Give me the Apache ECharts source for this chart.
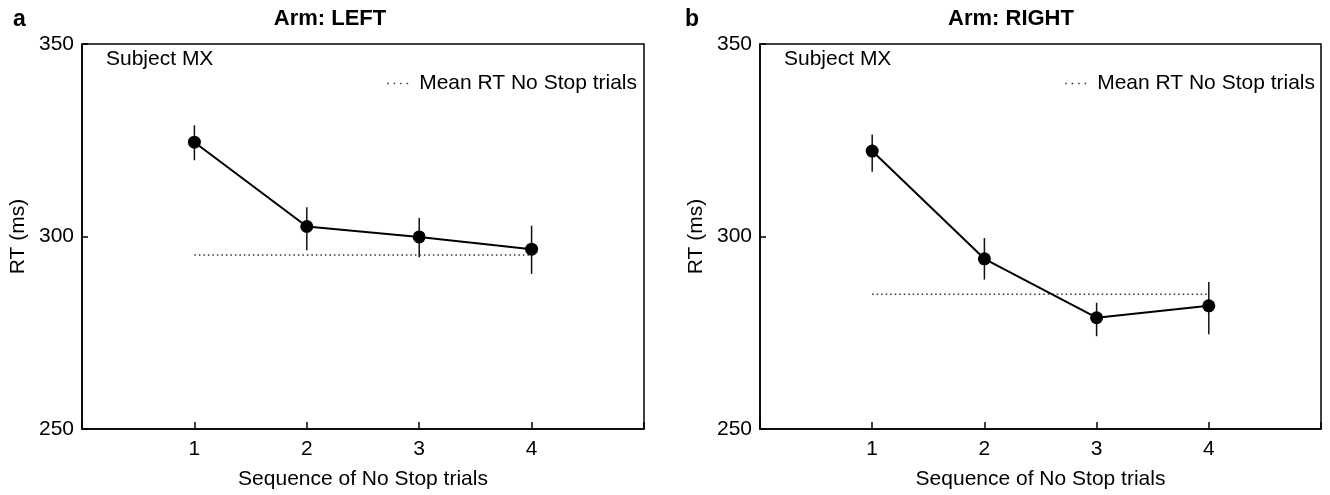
<!DOCTYPE html>
<html>
<head>
<meta charset="utf-8">
<script src="https://cdn.jsdelivr.net/npm/echarts@6/dist/echarts.min.js"></script>
<style>
html,body{margin:0;padding:0;background:#fff;}
#chart{width:1330px;height:495px;}
</style>
</head>
<body>
<div id="chart"></div>
<script>
// ---- data ----
const sequence = [1, 2, 3, 4];
const leftMean = [324.5, 302.6, 299.9, 296.7];
const leftLow  = [319.8, 296.4, 294.6, 290.3];
const leftHigh = [328.9, 307.6, 304.8, 302.8];
const leftNoStop = 295.2;

const rightMean = [322.2, 294.2, 278.9, 282.0];
const rightLow  = [316.8, 288.8, 274.1, 274.6];
const rightHigh = [326.5, 299.6, 282.8, 288.2];
const rightNoStop = 285.0;

const panelTitles = ['Arm: LEFT', 'Arm: RIGHT'];
const panelLetters = ['a', 'b'];
const subjectLabel = 'Subject MX';
const meanLabel = 'Mean RT No Stop trials';
const xName = 'Sequence of No Stop trials';
const yName = 'RT (ms)';
const yTicks = [250, 300, 350];

// ---- chart ----
const FONT = '"Liberation Sans", Arial, Helvetica, sans-serif';
const chart = echarts.init(document.getElementById('chart'));

const grids = [
  {left: 82, top: 44, width: 562, height: 387},
  {left: 760, top: 44, width: 561, height: 387}
];

function xAxis(i) {
  return {
    type: 'value', gridIndex: i, min: 0, max: 5, interval: 1,
    name: xName, nameLocation: 'middle', nameGap: 40,
    nameTextStyle: {color: '#000', fontSize: 21, fontFamily: FONT},
    axisLine: {lineStyle: {color: '#000', width: 1.5}},
    axisTick: {inside: true, length: 7, lineStyle: {color: '#000', width: 1.5}},
    axisLabel: {color: '#000', fontSize: 21, fontFamily: FONT, margin: 10,
      formatter: v => sequence.indexOf(v) >= 0 ? String(v) : ''},
    splitLine: {show: false}
  };
}
function yAxis(i) {
  return {
    type: 'value', gridIndex: i, min: yTicks[0], max: yTicks[yTicks.length - 1], interval: 50,
    name: yName, nameLocation: 'middle', nameGap: 53,
    nameTextStyle: {color: '#000', fontSize: 21, fontFamily: FONT},
    axisLine: {lineStyle: {color: '#000', width: 1.5}},
    axisTick: {inside: true, length: 6, lineStyle: {color: '#000', width: 1.5}},
    axisLabel: {color: '#000', fontSize: 21, fontFamily: FONT, margin: 8},
    splitLine: {show: false}
  };
}

function errSeries(i, low, high) {
  return {
    type: 'custom', xAxisIndex: i, yAxisIndex: i, z: 1,
    data: sequence.map((x, k) => [x, low[k], high[k]]),
    renderItem: function (params, api) {
      const p1 = api.coord([api.value(0), api.value(1)]);
      const p2 = api.coord([api.value(0), api.value(2)]);
      return {type: 'line', shape: {x1: p1[0], y1: p1[1], x2: p2[0], y2: p2[1]},
        style: {stroke: '#111', lineWidth: 1.5}};
    },
    silent: true
  };
}
function mainSeries(i, vals) {
  return {
    type: 'line', xAxisIndex: i, yAxisIndex: i, z: 3,
    data: sequence.map((x, k) => [x, vals[k]]),
    symbol: 'circle', symbolSize: 13,
    itemStyle: {color: '#000'},
    lineStyle: {color: '#000', width: 2},
    silent: true
  };
}
function meanSeries(i, m) {
  return {
    name: meanLabel, type: 'line', xAxisIndex: i, yAxisIndex: i, z: 2,
    data: [[sequence[0], m], [sequence[sequence.length - 1], m]],
    symbol: 'none',
    itemStyle: {color: '#333'},
    lineStyle: {color: '#333', width: 1.5, type: [1.5, 3]},
    silent: true
  };
}

function legend(right) {
  return {
    data: [meanLabel], right: right, top: 68, itemWidth: 26, itemHeight: 14, itemGap: 0,
    itemStyle: {opacity: 0},
    lineStyle: {color: '#333', width: 1.5, type: [1.5, 5], opacity: 1},
    textStyle: {fontSize: 21, color: '#000', fontFamily: FONT, padding: [0, 0, 0, 1]},
    selectedMode: false
  };
}

const option = {
  animation: false,
  backgroundColor: '#fff',
  textStyle: {fontFamily: FONT},
  grid: grids.map(g => Object.assign({show: true, borderColor: '#000', borderWidth: 1.5, backgroundColor: 'transparent'}, g)),
  xAxis: [xAxis(0), xAxis(1)],
  yAxis: [yAxis(0), yAxis(1)],
  title: [
    {text: panelLetters[0], left: 8, top: 3, textStyle: {fontSize: 23, fontWeight: 'bold', color: '#000', fontFamily: FONT}},
    {text: panelTitles[0], left: 325, top: 3, textAlign: 'center', textStyle: {fontSize: 22, fontWeight: 'bold', color: '#000', fontFamily: FONT}},
    {text: panelLetters[1], left: 680, top: 3, textStyle: {fontSize: 23, fontWeight: 'bold', color: '#000', fontFamily: FONT}},
    {text: panelTitles[1], left: 1006, top: 3, textAlign: 'center', textStyle: {fontSize: 22, fontWeight: 'bold', color: '#000', fontFamily: FONT}},
    {text: subjectLabel, left: 101, top: 44, textStyle: {fontSize: 21, fontWeight: 'normal', color: '#000', fontFamily: FONT}},
    {text: subjectLabel, left: 779, top: 44, textStyle: {fontSize: 21, fontWeight: 'normal', color: '#000', fontFamily: FONT}}
  ],
  legend: [legend(688), legend(10)],
  series: [
    errSeries(0, leftLow, leftHigh), mainSeries(0, leftMean), meanSeries(0, leftNoStop),
    errSeries(1, rightLow, rightHigh), mainSeries(1, rightMean), meanSeries(1, rightNoStop)
  ]
};
chart.setOption(option);
</script>
</body>
</html>
